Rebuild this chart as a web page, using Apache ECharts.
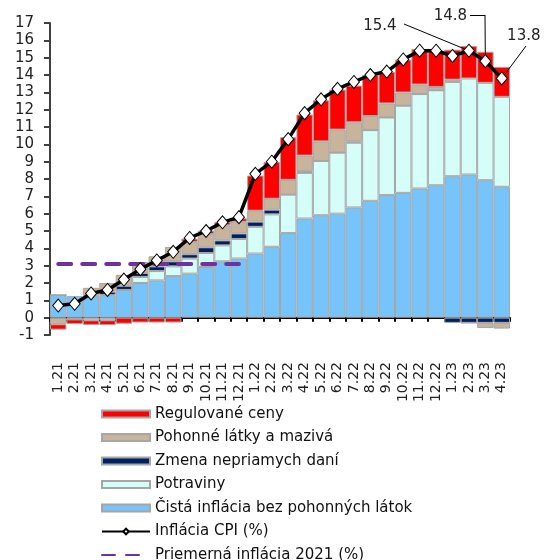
<!DOCTYPE html>
<html>
<head>
<meta charset="utf-8">
<script src="https://cdn.jsdelivr.net/npm/echarts@6/dist/echarts.min.js"></script>
<style>
    html, body { margin: 0; padding: 0; background: #fff; }
    #chart { width: 544px; height: 560px; }
</style>
</head>
<body>
<div id="chart"></div>
<script>
let months = ['1.21', '2.21', '3.21', '4.21', '5.21', '6.21', '7.21', '8.21', '9.21', '10.21', '11.21', '12.21',
    '1.22', '2.22', '3.22', '4.22', '5.22', '6.22', '7.22', '8.22', '9.22', '10.22', '11.22', '12.22',
    '1.23', '2.23', '3.23', '4.23'];

// zlozky inflacie (p.b.)
let cistaInflacia = [1.30, 1.24, 1.22, 1.30, 1.60, 2.00, 2.15, 2.40, 2.54, 2.92, 3.25, 3.41,
    3.70, 4.09, 4.88, 5.72, 5.91, 6.00, 6.36, 6.74, 7.07, 7.20, 7.45, 7.64, 8.16, 8.26, 7.93, 7.55];
let potraviny = [0, -0.10, -0.15, -0.15, 0, 0.35, 0.54, 0.56, 0.87, 0.81, 0.92, 1.13,
    1.54, 1.87, 2.22, 2.63, 3.13, 3.52, 3.73, 4.08, 4.48, 5.03, 5.45, 5.48, 5.44, 5.54, 5.62, 5.19];
let zmenaDani = [0, 0, 0.05, 0.20, 0.24, 0.23, 0.27, 0.29, 0.25, 0.33, 0.29, 0.32,
    0.30, 0.27, 0, 0.10, 0, 0, 0.08, 0, 0, 0, 0, 0, -0.30, -0.30, -0.30, -0.30];
let pohonneLatky = [-0.38, 0, 0.45, 0.50, 0.63, 0.63, 0.58, 0.83, 0.71, 0.77, 0.87, 0.67,
    0.63, 0.63, 0.85, 0.90, 1.13, 1.33, 1.10, 0.81, 0.81, 0.76, 0.55, 0.19, 0.13, 0, -0.30, -0.33];
let regulovaneCeny = [-0.31, -0.27, -0.27, -0.28, -0.35, -0.28, -0.28, -0.28, 0.19, 0.19, 0.19, 0.20,
    2.03, 2.12, 2.46, 2.37, 2.37, 2.31, 2.12, 2.37, 1.83, 1.90, 2.05, 2.10, 1.73, 1.87, 1.79, 1.73];

let inflaciaCPI = [0.7, 0.8, 1.4, 1.6, 2.2, 2.8, 3.3, 3.8, 4.6, 5.0, 5.5, 5.8,
    8.3, 9.0, 10.3, 11.8, 12.6, 13.2, 13.6, 14.0, 14.2, 14.9, 15.4, 15.4, 15.1, 15.4, 14.8, 13.8];
let priemer2021 = [3.1, 3.1, 3.1, 3.1, 3.1, 3.1, 3.1, 3.1, 3.1, 3.1, 3.1, 3.1];

// body s popisom a posun popisu
let labelIdx = [25, 26, 27];
let labelShift = {25: [-89, -5], 26: [-35, -25], 27: [22, -23]};

const font = 'DejaVu Sans';

function barSerie(name, data, color) {
    return {
        name: name,
        type: 'bar',
        stack: 'spolu',
        barCategoryGap: '0%',
        data: data,
        itemStyle: {
            color: color,
            borderColor: '#a6a6a6',
            borderWidth: 1
        }
    };
}

let cpiData = inflaciaCPI.map(function (v, i) {
    if (labelIdx.indexOf(i) >= 0) {
        return {value: v, label: {show: true}};
    }
    return v;
});

// vodiace ciary k popisom
let leaders = [
    [{coord: [months[25], inflaciaCPI[25]]}, {x: 404, y: 24}],
    [{x: 470, y: 15}, {x: 485, y: 15}],
    [{x: 485, y: 15}, {coord: [months[26], inflaciaCPI[26]]}],
    [{x: 526, y: 46}, {coord: [months[27], inflaciaCPI[27]]}]
];

const option = {
    animation: false,
    grid: {
        left: 50,
        right: 34,
        top: 23,
        bottom: 225
    },
    legend: {
        orient: 'vertical',
        left: 101,
        top: 406,
        height: 170,
        padding: 0,
        itemWidth: 48,
        itemHeight: 7,
        itemGap: 7.5,
        textStyle: {
            fontFamily: font,
            fontSize: 15,
            lineHeight: 16,
            color: '#111'
        },
        data: [
            {name: 'Regulované ceny', icon: 'rect'},
            {name: 'Pohonné látky a mazivá', icon: 'rect'},
            {name: 'Zmena nepriamych daní', icon: 'rect'},
            {name: 'Potraviny', icon: 'rect'},
            {name: 'Čistá inflácia bez pohonných látok', icon: 'rect'},
            'Inflácia CPI (%)',
            {name: 'Priemerná inflácia 2021 (%)', itemStyle: {opacity: 0}}
        ]
    },
    xAxis: {
        type: 'category',
        data: months,
        axisLine: {
            onZero: true,
            lineStyle: {color: '#000', width: 2}
        },
        axisTick: {
            show: true,
            length: 4,
            interval: 0,
            lineStyle: {color: '#000', width: 2}
        },
        axisLabel: {
            rotate: 90,
            interval: 0,
            margin: 27,
            fontFamily: font,
            fontSize: 14,
            color: '#222'
        }
    },
    yAxis: {
        type: 'value',
        min: -1,
        max: 17,
        interval: 1,
        axisLine: {
            show: true,
            lineStyle: {color: '#404040', width: 2}
        },
        axisTick: {
            show: true,
            length: 6,
            lineStyle: {color: '#404040', width: 2}
        },
        splitLine: {show: false},
        axisLabel: {
            margin: 16,
            fontFamily: font,
            fontSize: 15,
            color: '#222'
        }
    },
    series: [
        barSerie('Čistá inflácia bez pohonných látok', cistaInflacia, '#77c4fa'),
        barSerie('Potraviny', potraviny, '#d4fef7'),
        barSerie('Zmena nepriamych daní', zmenaDani, '#002060'),
        barSerie('Pohonné látky a mazivá', pohonneLatky, '#c8b39b'),
        barSerie('Regulované ceny', regulovaneCeny, '#ff0000'),
        {
            name: 'Priemerná inflácia 2021 (%)',
            type: 'line',
            data: priemer2021,
            symbol: 'none',
            z: 4,
            lineStyle: {color: '#7030a0', width: 4, type: [13, 11], cap: 'round'},
            itemStyle: {color: '#7030a0'}
        },
        {
            name: 'Inflácia CPI (%)',
            type: 'line',
            data: cpiData,
            symbol: 'diamond',
            symbolSize: [11, 13],
            showAllSymbol: true,
            z: 5,
            lineStyle: {color: '#000', width: 3.5},
            itemStyle: {color: '#fff', borderColor: '#000', borderWidth: 1},
            label: {
                show: false,
                position: 'top',
                fontFamily: font,
                fontSize: 15,
                color: '#222'
            },
            labelLayout: function (params) {
                let s = labelShift[params.dataIndex];
                if (!s) {
                    return {};
                }
                return {dx: s[0], dy: s[1]};
            },
            markLine: {
                silent: true,
                symbol: ['none', 'none'],
                label: {show: false},
                lineStyle: {color: '#000', width: 1, type: 'solid'},
                data: leaders
            }
        }
    ]
};

let chart = echarts.init(document.getElementById('chart'));
chart.setOption(option);
</script>
</body>
</html>
